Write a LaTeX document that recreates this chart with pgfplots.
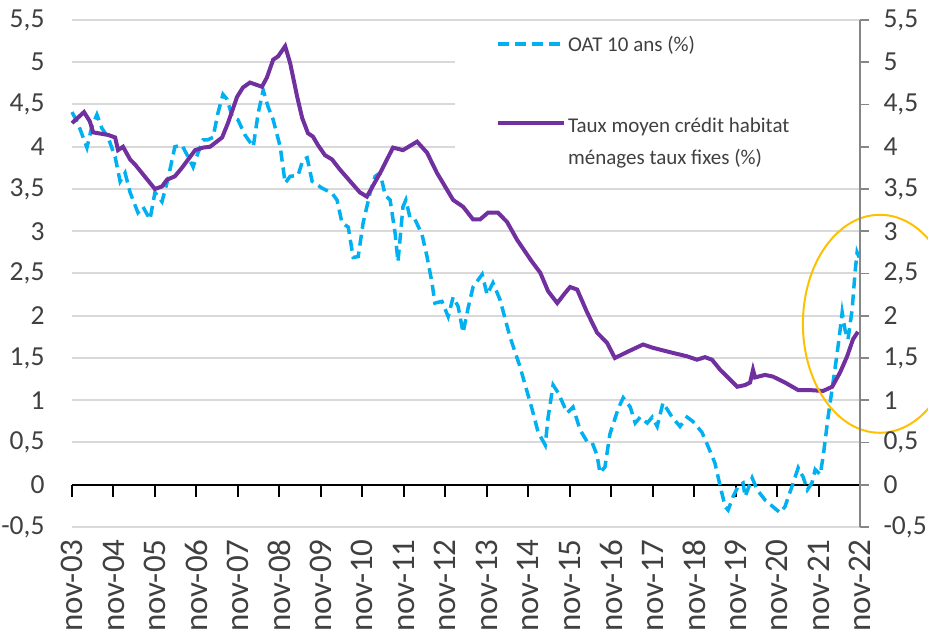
\documentclass[border=0pt]{standalone}
\usepackage{fontspec}
\setmainfont{Carlito}
\usepackage{pgfplots}
\pgfplotsset{compat=1.18}
\definecolor{oat}{HTML}{00B0F0}
\definecolor{cred}{HTML}{7030A0}
\definecolor{gridc}{HTML}{D9D9D9}
\definecolor{axg}{HTML}{868686}
\definecolor{txt}{HTML}{404040}
\definecolor{gold}{HTML}{FFC000}
\begin{document}
\begin{tikzpicture}
\pgfplotsset{
  common/.style={
    scale only axis, width=788pt, height=507pt,
    xmin=0, xmax=19, ymin=-0.5, ymax=5.5,
    ytick={-0.5,0,0.5,1,1.5,2,2.5,3,3.5,4,4.5,5,5.5},
    yticklabel style={font=\fontsize{27.5}{30}\selectfont, text=txt,
      /pgf/number format/use comma, /pgf/number format/fixed,
      /pgf/number format/precision=1, /pgf/number format/assume math mode=true},
  }
}
\begin{axis}[common,
  clip=false,
  axis line style={draw=none},
  tick style={draw=none},
  xtick={0,...,19},
  xticklabels={nov-03,nov-04,nov-05,nov-06,nov-07,nov-08,nov-09,nov-10,nov-11,nov-12,nov-13,nov-14,nov-15,nov-16,nov-17,nov-18,nov-19,nov-20,nov-21,nov-22},
  xticklabel style={rotate=90, anchor=east, font=\fontsize{33}{35}\selectfont, text=txt, xshift=-9pt},
  yticklabel style={xshift=-24pt},
  ymajorgrids, grid style={gridc, line width=2pt},
  legend style={at={(axis cs:10.22,5.34)}, anchor=north west, fill=none, draw=none,
    font=\fontsize{21}{32}\selectfont, text=txt, inner sep=0pt, row sep=54pt,
    nodes={inner sep=2pt}},
  legend cell align=left,
  legend image code/.code={\draw[#1] (0pt,0pt) -- (66pt,0pt);},
]
\coordinate (bl) at (rel axis cs:0,0);
\coordinate (tr) at (rel axis cs:1,1);
% white legend area
\fill[white] (axis cs:9.24,5.47) rectangle (axis cs:19,3.52);
% zero line and year ticks
\draw[black, line width=2.4pt] (axis cs:0,0) -- (axis cs:19,0);
\pgfplotsinvokeforeach{0,...,19}{\draw[black, line width=2pt] (axis cs:#1,0) -- ++(0pt,-12pt);}

\addplot[oat, line width=3.5pt, dash pattern=on 11pt off 6pt] table {
x y
0 4.41
0.14 4.28
0.36 3.99
0.48 4.24
0.60 4.38
0.72 4.22
0.87 4.11
1.04 3.88
1.16 3.59
1.28 3.69
1.40 3.46
1.59 3.22
1.71 3.29
1.88 3.14
2.00 3.46
2.17 3.35
2.31 3.61
2.48 4.00
2.65 4.02
2.80 3.88
2.92 3.76
3.04 3.93
3.16 4.08
3.26 4.08
3.40 4.11
3.52 4.40
3.64 4.62
3.74 4.56
3.86 4.36
4.00 4.32
4.17 4.14
4.37 4.00
4.49 4.40
4.61 4.67
4.73 4.47
4.85 4.32
5.02 4.00
5.14 3.57
5.26 3.65
5.45 3.66
5.57 3.85
5.67 3.87
5.79 3.59
6.03 3.51
6.27 3.45
6.39 3.37
6.51 3.10
6.66 3.05
6.78 2.69
6.90 2.70
7.02 3.10
7.19 3.46
7.31 3.65
7.43 3.69
7.55 3.43
7.67 3.37
7.79 2.98
7.86 2.64
7.98 3.29
8.05 3.37
8.15 3.16
8.27 3.14
8.44 2.96
8.56 2.70
8.68 2.39
8.75 2.15
8.92 2.17
9.07 1.99
9.19 2.22
9.31 2.11
9.43 1.80
9.55 2.09
9.67 2.34
9.89 2.49
10.01 2.25
10.15 2.39
10.32 2.19
10.56 1.75
10.80 1.40
11.09 0.90
11.24 0.62
11.41 0.47
11.48 0.80
11.60 1.18
11.72 1.09
11.94 0.85
12.08 0.92
12.25 0.65
12.42 0.51
12.54 0.50
12.66 0.35
12.73 0.14
12.85 0.21
12.97 0.60
13.17 0.90
13.29 1.03
13.46 0.92
13.58 0.73
13.70 0.80
13.87 0.73
13.99 0.80
14.11 0.69
14.25 0.97
14.47 0.80
14.66 0.69
14.83 0.80
14.97 0.75
15.19 0.62
15.34 0.45
15.50 0.26
15.63 -0.02
15.75 -0.26
15.82 -0.30
15.94 -0.14
16.06 -0.02
16.18 0.02
16.23 -0.14
16.40 0.08
16.52 -0.06
16.71 -0.18
16.90 -0.26
17.07 -0.33
17.19 -0.26
17.36 -0.02
17.51 0.20
17.63 0.09
17.73 -0.06
17.84 0.02
17.92 0.18
18.04 0.12
18.11 0.33
18.23 0.80
18.35 1.21
18.45 1.56
18.52 1.83
18.57 2.04
18.64 1.83
18.71 1.72
18.81 2.07
18.88 2.51
18.93 2.75
18.98 2.69
};
\addlegendentry{OAT 10 ans (\%)}

\addplot[cred, line width=4pt] table {
x y
0 4.28
0.29 4.41
0.43 4.30
0.51 4.17
0.87 4.14
1.04 4.11
1.11 3.96
1.23 4.00
1.40 3.85
1.52 3.79
2.00 3.50
2.17 3.53
2.29 3.61
2.48 3.65
2.65 3.75
2.97 3.96
3.16 3.99
3.33 4.00
3.62 4.11
3.76 4.28
3.98 4.59
4.12 4.70
4.29 4.76
4.58 4.71
4.70 4.82
4.85 5.03
4.97 5.07
5.14 5.19
5.26 4.99
5.43 4.59
5.55 4.34
5.69 4.16
5.81 4.12
5.93 4.02
6.10 3.90
6.27 3.85
6.46 3.73
6.94 3.46
7.11 3.41
7.43 3.69
7.74 3.99
7.98 3.96
8.32 4.06
8.56 3.93
8.80 3.69
9.19 3.37
9.43 3.29
9.67 3.14
9.84 3.14
10.03 3.22
10.27 3.22
10.49 3.11
10.73 2.90
11.09 2.64
11.29 2.51
11.48 2.29
11.70 2.15
11.89 2.27
12.01 2.34
12.18 2.31
12.42 2.04
12.66 1.80
12.90 1.68
13.09 1.50
13.38 1.57
13.77 1.66
14.01 1.62
14.49 1.56
14.83 1.52
15.07 1.48
15.26 1.51
15.43 1.48
15.63 1.36
16.04 1.16
16.23 1.18
16.35 1.21
16.42 1.36
16.47 1.27
16.71 1.30
16.90 1.28
17.19 1.21
17.51 1.12
17.80 1.12
18.11 1.11
18.33 1.16
18.52 1.33
18.69 1.52
18.83 1.72
18.95 1.81
};
\addlegendentry{\begin{tabular}[t]{@{}l@{}}Taux moyen crédit habitat\\ménages taux fixes (\%)\end{tabular}}

\draw[gold, line width=2pt] (axis cs:19.48,1.905) ellipse [x radius=77pt, y radius=109pt];
\end{axis}
\begin{axis}[common,
  axis x line=none,
  axis y line*=right,
  y axis line style={axg, line width=1.6pt},
  ytick style={axg, line width=1.6pt},
  tick align=outside, major tick length=9pt,
  yticklabel style={xshift=11pt},
]
\end{axis}
\pgfresetboundingbox
\path ([xshift=-72pt,yshift=-114pt]bl) rectangle ([xshift=68pt,yshift=20pt]tr);
\end{tikzpicture}
\end{document}
